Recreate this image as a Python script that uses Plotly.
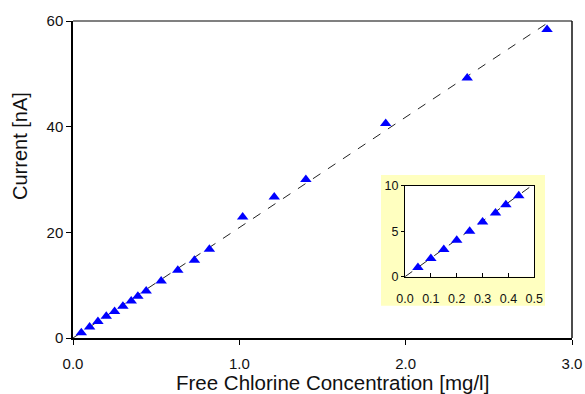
import plotly.graph_objects as go

# ---- data ----
conc = [0.05, 0.10, 0.15, 0.20, 0.25, 0.30, 0.35, 0.39, 0.44, 0.53, 0.63, 0.73,
        0.82, 1.02, 1.21, 1.40, 1.88, 2.37, 2.85]
current = [1.0, 2.1, 3.1, 4.1, 5.0, 6.0, 7.0, 7.9, 8.9, 10.8, 12.8, 14.7,
           16.8, 22.9, 26.7, 30.0, 40.6, 49.2, 58.4]
inset_conc = [0.05, 0.10, 0.15, 0.20, 0.25, 0.30, 0.35, 0.39, 0.44]
inset_current = [1.0, 2.0, 3.0, 4.0, 5.0, 6.0, 7.0, 7.9, 8.9]
fit_slope_main = 20.9   # nA per mg/l
fit_slope_inset = 20.4
fit_x_main = [0.0, 3.0]
fit_x_inset = [0.0, 0.5]
main_xticks = [0.0, 1.0, 2.0, 3.0]
main_yticks = [0, 20, 40, 60]
inset_xticks = [0.0, 0.1, 0.2, 0.3, 0.4, 0.5]
inset_yticks = [0, 5, 10]

FONT = "Liberation Sans, Arial, sans-serif"
BLUE = "#0000FF"

fig = go.Figure()

fig.add_trace(go.Scatter(x=fit_x_main, y=[fit_slope_main * v for v in fit_x_main],
                         mode="lines", line=dict(color="#222222", width=1, dash="dash"),
                         hoverinfo="skip", showlegend=False, xaxis="x", yaxis="y"))
fig.add_trace(go.Scatter(x=conc, y=current, mode="markers",
                         marker=dict(symbol="triangle-up", size=10, color=BLUE),
                         showlegend=False, xaxis="x", yaxis="y"))

fig.add_trace(go.Scatter(x=fit_x_inset, y=[fit_slope_inset * v for v in fit_x_inset],
                         mode="lines", line=dict(color="#222222", width=1, dash="dash"),
                         hoverinfo="skip", showlegend=False, xaxis="x2", yaxis="y2"))
fig.add_trace(go.Scatter(x=inset_conc, y=inset_current, mode="markers",
                         marker=dict(symbol="triangle-up", size=10, color=BLUE),
                         showlegend=False, xaxis="x2", yaxis="y2", cliponaxis=False))

W, H = 585, 394
L, R, T, B = 73, 13, 21, 56
pw, ph = W - L - R, H - T - B

def px_x(p):
    return (p - L) / pw

def px_y(p):
    return (H - B - p) / ph

fig.update_layout(
    width=W, height=H,
    margin=dict(l=L, r=R, t=T, b=B, autoexpand=False),
    paper_bgcolor="white", plot_bgcolor="white",
    font=dict(family=FONT, color="#111111"),
    xaxis=dict(range=[0, 3], tickvals=main_xticks, tickformat=".1f",
               showgrid=False, zeroline=False, showline=True, linecolor="black",
               linewidth=1.5, ticks="outside", ticklen=5, tickcolor="black",
               tickfont=dict(size=15), ticklabelstandoff=6, domain=[0, 1],
               automargin=False),
    yaxis=dict(range=[0, 60], tickvals=main_yticks,
               showgrid=False, zeroline=False, showline=True, linecolor="black",
               linewidth=1.5, ticks="outside", ticklen=5, tickcolor="black",
               tickfont=dict(size=15), domain=[0, 1], automargin=False),
    xaxis2=dict(range=[0, 0.5], tickvals=inset_xticks, tickformat=".1f",
                showgrid=False, zeroline=False, showline=True, mirror=True,
                linecolor="black", linewidth=1.2, ticks="inside", ticklen=4,
                tickcolor="black", tickfont=dict(size=12.5), anchor="y2",
                ticklabelstandoff=10,
                domain=[px_x(405), px_x(534.3)], automargin=False),
    yaxis2=dict(range=[0, 10], tickvals=inset_yticks,
                showgrid=False, zeroline=False, showline=True, mirror=True,
                linecolor="black", linewidth=1.2, ticks="outside", ticklen=3,
                tickcolor="black", tickfont=dict(size=12.5), anchor="x2",
                domain=[px_y(276.7), px_y(185.7)], automargin=False),
    shapes=[
        dict(type="rect", xref="paper", yref="paper", layer="below",
             x0=px_x(381), x1=px_x(545), y0=px_y(305.7), y1=px_y(175),
             fillcolor="#FFFFC0", line=dict(width=0)),
        dict(type="line", xref="paper", yref="paper", x0=0, x1=1, y0=1, y1=1,
             line=dict(color="#808080", width=2)),
        dict(type="line", xref="paper", yref="paper", x0=1, x1=1, y0=0, y1=1,
             line=dict(color="#111111", width=1.5)),
    ],
    annotations=[
        dict(text="Current [nA]", xref="paper", yref="paper",
             x=px_x(20), y=px_y(146), textangle=-90, showarrow=False,
             xanchor="center", yanchor="middle", font=dict(size=20)),
        dict(text="Free Chlorine Concentration [mg/l]", xref="paper", yref="paper",
             x=px_x(332), y=px_y(382), showarrow=False,
             xanchor="center", yanchor="middle", font=dict(size=20.5)),
    ],
)

fig.write_html("out.html", config={"displayModeBar": False},
               post_script="document.body.style.margin='0';document.body.style.overflow='hidden';")
